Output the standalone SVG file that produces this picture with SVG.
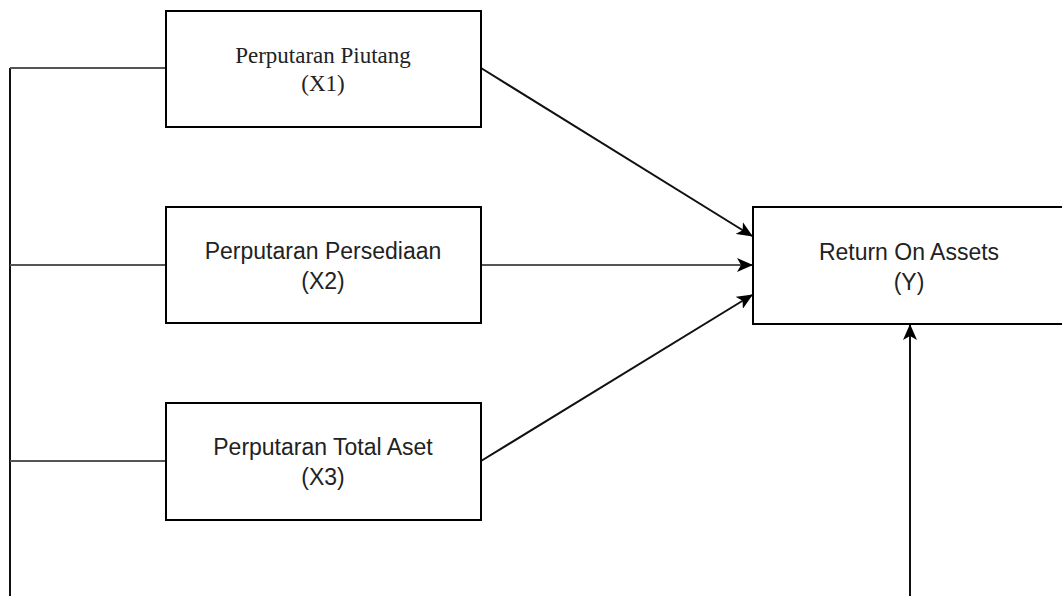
<svg xmlns="http://www.w3.org/2000/svg" width="1062" height="596" viewBox="0 0 1062 596">
<style>
.box{fill:#fff;stroke:#000;stroke-width:2}
.sans{font-family:"Liberation Sans",Arial,sans-serif;font-size:23px;fill:#222;text-anchor:middle}
.serif{font-family:"Liberation Serif","Times New Roman",serif;font-size:23px;fill:#222;text-anchor:middle}
.ln{fill:none;stroke:#111;stroke-width:2}
.gl{fill:none;stroke:#555;stroke-width:2}
</style>
<defs>
<marker id="ah" viewBox="0 0 16 14" refX="15" refY="7" markerWidth="16" markerHeight="14" markerUnits="userSpaceOnUse" orient="auto">
<path d="M0,0 L16,7 L0,14 L4,7 Z" fill="#000"/>
</marker>
</defs>
<g id="connectors">
<path class="ln" d="M10,596 L10,68"/>
<path class="gl" d="M10,68 L166,68"/>
<path class="gl" d="M10,265 L166,265"/>
<path class="gl" d="M10,461 L166,461"/>
<path class="ln" d="M481,68 L752,236" marker-end="url(#ah)"/>
<path class="gl" d="M481,265 L752,265" marker-end="url(#ah)"/>
<path class="ln" d="M481,461 L752,295" marker-end="url(#ah)"/>
<path class="ln" d="M910,596 L910,325" marker-end="url(#ah)"/>
</g>
<g id="x1">
<rect class="box" x="166" y="11" width="315" height="116"/>
<text class="serif" x="323" y="63">Perputaran Piutang</text>
<text class="serif" x="323" y="91">(X1)</text>
</g>
<g id="x2">
<rect class="box" x="166" y="207" width="315" height="116"/>
<text class="sans" x="323" y="259">Perputaran Persediaan</text>
<text class="sans" x="323" y="289">(X2)</text>
</g>
<g id="x3">
<rect class="box" x="166" y="403" width="315" height="117"/>
<text class="sans" x="323" y="455">Perputaran Total Aset</text>
<text class="sans" x="323" y="485">(X3)</text>
</g>
<g id="y">
<rect class="box" x="753" y="207" width="320" height="117"/>
<text class="sans" x="909" y="260">Return On Assets</text>
<text class="sans" x="909" y="290">(Y)</text>
</g>
</svg>
